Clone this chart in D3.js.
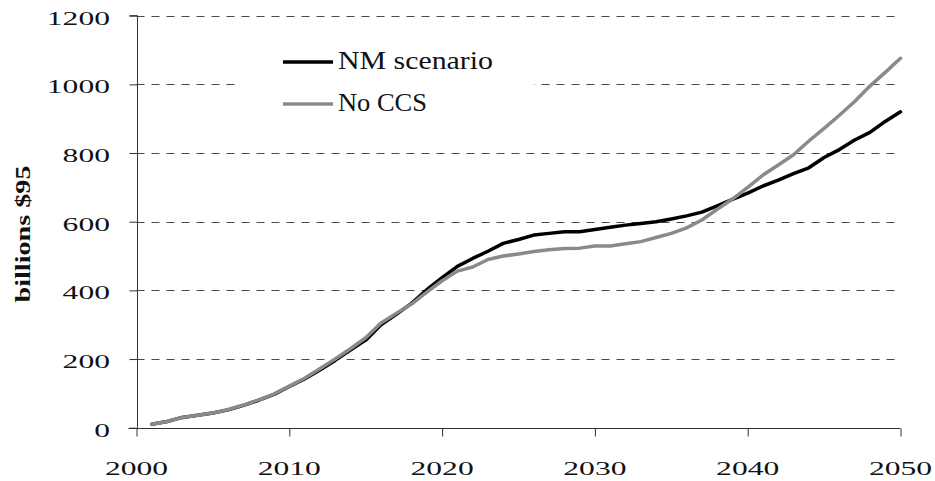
<!DOCTYPE html>
<html>
<head>
<meta charset="utf-8">
<script src="https://cdn.jsdelivr.net/npm/d3@7"></script>
<style>
  html, body { margin: 0; padding: 0; background: #fff; }
  svg { display: block; }
</style>
</head>
<body>
<svg id="chart" width="935" height="481"></svg>
<script>
const years = [2001,2002,2003,2004,2005,2006,2007,2008,2009,2010,
               2011,2012,2013,2014,2015,2016,2017,2018,2019,2020,
               2021,2022,2023,2024,2025,2026,2027,2028,2029,2030,
               2031,2032,2033,2034,2035,2036,2037,2038,2039,2040,
               2041,2042,2043,2044,2045,2046,2047,2048,2049,2050];
const nmScenario = [10,18,30,36,43,52,65,80,97,120,
                    142,168,196,226,255,300,330,362,402,437,
                    470,493,514,537,548,561,566,571,571,577,
                    584,590,595,600,608,617,628,646,665,683,
                    704,721,740,757,787,810,838,860,892,920];
const noCCS = [10,18,30,36,43,53,66,81,98,121,
               144,172,200,230,262,305,333,360,395,428,
               456,468,490,500,506,513,518,522,523,529,
               529,536,542,554,566,582,605,636,666,700,
               736,765,795,835,872,910,950,995,1035,1076];
const seriesNames = ["NM scenario", "No CCS"];
const xTicks = [2000, 2010, 2020, 2030, 2040, 2050];
const yTicks = [0, 200, 400, 600, 800, 1000, 1200];
const yTitle = "billions $95";

const FONT = "'Liberation Serif', 'Times New Roman', serif";
const svg = d3.select("#chart");
const x = d3.scaleLinear().domain([2000, 2050]).range([136.5, 900.5]);
const y = d3.scaleLinear().domain([0, 1200]).range([427.7, 15.7]);

// gridlines
svg.append("g").selectAll("line")
  .data(yTicks.filter(d => d > 0))
  .join("line")
  .attr("x1", x(2000)).attr("x2", 897)
  .attr("y1", d => Math.round(y(d)) + 0.5).attr("y2", d => Math.round(y(d)) + 0.5)
  .attr("stroke", "#4a4a4a").attr("stroke-width", 1)
  .attr("stroke-dasharray", "8,7");

// legend background (covers gridline)
svg.append("rect").attr("x", 238).attr("y", 32).attr("width", 296).attr("height", 100).attr("fill", "#fff");

// y axis
const yAxis = d3.axisLeft(y).tickValues(yTicks).tickSize(8).tickFormat("");
const gy = svg.append("g").attr("transform", `translate(${Math.round(x(2000)) + 0.5},0)`).call(yAxis);
gy.select(".domain").attr("stroke", "#333").attr("d", `M-8,${y(1200)}H0V${y(0)}`);
gy.selectAll(".tick line").attr("stroke", "#333");

// x axis
const xAxis = d3.axisBottom(x).tickValues(xTicks).tickSize(8).tickFormat("");
const gx = svg.append("g").attr("transform", `translate(0,${Math.round(y(0)) + 0.5})`).call(xAxis);
gx.select(".domain").attr("stroke", "#333").attr("d", `M${x(2000) - 8},0H${x(2050)}`);
gx.selectAll(".tick line").attr("stroke", "#333");

// tick labels
const digitW = 15.8;
svg.append("g").selectAll("text").data(yTicks).join("text")
  .attr("x", 110).attr("y", d => y(d) + 9)
  .attr("text-anchor", "end")
  .attr("font-family", FONT).attr("font-size", 19.5)
  .attr("textLength", d => String(d).length * digitW)
  .attr("lengthAdjust", "spacingAndGlyphs")
  .attr("fill", "#111")
  .text(d => d);
svg.append("g").selectAll("text").data(xTicks).join("text")
  .attr("x", d => x(d)).attr("y", 474.5)
  .attr("text-anchor", "middle")
  .attr("font-family", FONT).attr("font-size", 19.5)
  .attr("textLength", d => String(d).length * digitW)
  .attr("lengthAdjust", "spacingAndGlyphs")
  .attr("fill", "#111")
  .text(d => d);

// y title
svg.append("text")
  .attr("transform", "translate(30,234) rotate(-90)")
  .attr("text-anchor", "middle")
  .attr("font-family", FONT).attr("font-weight", "bold").attr("font-size", 21)
  .attr("textLength", 137).attr("lengthAdjust", "spacingAndGlyphs")
  .attr("fill", "#111")
  .text(yTitle);

// lines
const line = d3.line().x((d, i) => x(years[i])).y(d => y(d)).curve(d3.curveLinear);
const colors = ["#000000", "#8a8a8a"];
const data = [nmScenario, noCCS];
data.forEach((s, k) => {
  svg.append("path").datum(s)
    .attr("d", line)
    .attr("fill", "none").attr("stroke", colors[k])
    .attr("stroke-width", 3.5).attr("stroke-linejoin", "round").attr("stroke-linecap", "round");
});

// legend
const legY = [62, 104];
const legW = [155, 89];
seriesNames.forEach((name, k) => {
  svg.append("line").attr("x1", 283).attr("x2", 333).attr("y1", legY[k]).attr("y2", legY[k])
    .attr("stroke", colors[k]).attr("stroke-width", 3.5);
  svg.append("text").attr("x", 338).attr("y", legY[k] + 7)
    .attr("font-family", FONT).attr("font-size", 26).attr("fill", "#111")
    .attr("textLength", legW[k]).attr("lengthAdjust", "spacingAndGlyphs")
    .text(name);
});
</script>
</body>
</html>
